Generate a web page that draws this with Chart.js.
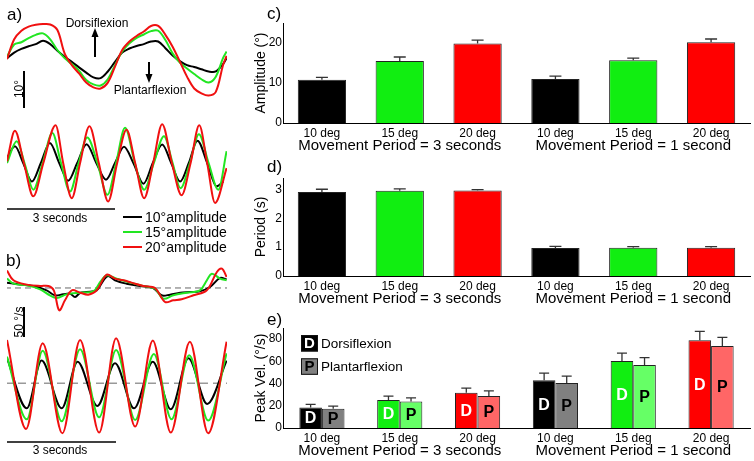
<!DOCTYPE html>
<html>
<head>
<meta charset="utf-8">
<script src="https://cdn.jsdelivr.net/npm/chart.js@4.4.1/dist/chart.umd.min.js"></script>
<style>
  body { margin: 0; background: #fff; }
  #fig { position: relative; width: 754px; height: 461px; overflow: hidden;
         font-family: "Liberation Sans", Arial, sans-serif; color: #000; background: #fff; }
  #fig canvas, #fig svg { position: absolute; }
  .txt { position: absolute; white-space: nowrap; line-height: 1; }
  .mid { transform: translate(-50%, -50%); }
  .rot { transform: translate(-50%, -50%) rotate(-90deg); }
  .panel { font-size: 17px; }
</style>
</head>
<body>
<div id="fig">
  <canvas id="aTop" width="220" height="84" style="left:7px;top:20px"></canvas>
  <canvas id="aBot" width="220" height="90" style="left:7px;top:120px"></canvas>
  <canvas id="bTop" width="220" height="54" style="left:7px;top:262px"></canvas>
  <canvas id="bBot" width="220" height="110" style="left:7px;top:330px"></canvas>
  <canvas id="cAmp" width="504" height="160" style="left:250px;top:0px"></canvas>
  <canvas id="dPer" width="504" height="160" style="left:250px;top:150px"></canvas>
  <canvas id="eVel" width="504" height="151" style="left:250px;top:310px"></canvas>

  <svg width="250" height="461" style="left:0;top:0">
    <g stroke="#000" fill="none">
      <line x1="95" y1="57" x2="95" y2="35" stroke-width="2"/>
      <line x1="149" y1="62" x2="149" y2="76" stroke-width="2"/>
      <line x1="24" y1="71" x2="24" y2="108" stroke-width="2"/>
      <line x1="7" y1="209" x2="115" y2="209" stroke-width="1.5"/>
      <line x1="24" y1="307" x2="24" y2="337" stroke-width="2"/>
      <line x1="7" y1="442" x2="116" y2="442" stroke-width="1.5"/>
      <line x1="123" y1="217" x2="142" y2="217" stroke-width="2" stroke="#000"/>
      <line x1="123" y1="232" x2="142" y2="232" stroke-width="2" stroke="#22e622"/>
      <line x1="123" y1="247" x2="142" y2="247" stroke-width="2" stroke="#f01010"/>
    </g>
    <polygon points="95,28 91.5,37 98.5,37" fill="#000"/>
    <polygon points="149,83 145.5,74 152.5,74" fill="#000"/>
  </svg>

  <div class="txt panel" style="left:7px;top:6px">a)</div>
  <div class="txt panel" style="left:6px;top:252px">b)</div>
  <div class="txt panel" style="left:267px;top:5px">c)</div>
  <div class="txt panel" style="left:267px;top:158px">d)</div>
  <div class="txt panel" style="left:267px;top:311px">e)</div>

  <div class="txt mid" style="left:97px;top:22.5px;font-size:12px">Dorsiflexion</div>
  <div class="txt mid" style="left:150px;top:90px;font-size:12px">Plantarflexion</div>
  <div class="txt rot" style="left:18.5px;top:89px;font-size:12px">10°</div>
  <div class="txt mid" style="left:60px;top:218px;font-size:12px">3 seconds</div>
  <div class="txt rot" style="left:19px;top:322px;font-size:12px">50 °/s</div>
  <div class="txt mid" style="left:60px;top:450px;font-size:12px">3 seconds</div>
  <div class="txt" style="left:145px;top:210px;font-size:14px">10°amplitude</div>
  <div class="txt" style="left:145px;top:225px;font-size:14px">15°amplitude</div>
  <div class="txt" style="left:145px;top:240px;font-size:14px">20°amplitude</div>
</div>

<script>
// ---- bar panels (c, d, e) ----
const amplitudes = ["10 deg", "15 deg", "20 deg", "10 deg", "15 deg", "20 deg"];
const periodGroups = ["Movement Period = 3 seconds", "Movement Period = 1 second"];
const groupCenter = [1, 4];

const amplitudeMean = [10.8, 15.5, 19.9, 11.0, 15.7, 20.2];
const amplitudeErr = [0.6, 1.0, 0.8, 0.7, 0.5, 0.8];
const periodMean = [2.91, 2.96, 2.97, 0.97, 0.98, 0.98];
const periodErr = [0.1, 0.06, 0.03, 0.06, 0.04, 0.04];
const dorsiVel = [18.5, 25.1, 31.7, 43.0, 60.4, 78.9];
const dorsiErr = [2.7, 3.6, 4.2, 6.3, 6.9, 8.1];
const plantarVel = [17.3, 23.9, 28.7, 40.6, 56.8, 73.8];
const plantarErr = [2.4, 3.3, 4.8, 6.0, 6.5, 7.8];

const ampTicks = [0, 10, 20];
const perTicks = [0, 1, 2, 3];
const velTicks = [0, 20, 40, 60, 80];

// ---- traces (a: angle in deg, b: velocity in deg/s, time in s) ----
const aTopTime = [0, 0.2, 0.4, 0.6, 0.8, 1.0, 1.2, 1.4, 1.6, 1.8, 2.0, 2.2, 2.4, 2.6, 2.8, 3.0,
                  3.2, 3.4, 3.6, 3.8, 4.0, 4.2, 4.4, 4.6, 4.8, 5.0, 5.2, 5.4, 5.6, 5.8, 6.0, 6.1];
const aTopBlack = [0.5, 2.0, 3.0, 3.7, 4.3, 5.2, 4.3, 2.5, 0.9, -0.5, -2.0, -3.4, -4.7, -4.9, -3.1, -0.5,
                   2.0, 3.1, 3.8, 4.3, 5.0, 5.0, 3.2, 1.2, -0.3, -1.4, -1.9, -2.5, -3.1, -3.1, -1.1, 0.5];
const aTopGreen = [0.9, 4.2, 4.8, 5.9, 6.8, 7.2, 5.6, 2.7, 0.5, -1.1, -2.9, -5.4, -6.6, -6.9, -5.2, -1.4,
                   2.3, 4.5, 6.0, 6.9, 7.8, 7.9, 5.4, 1.8, -0.7, -2.3, -3.8, -5.2, -6.1, -4.5, 0.5, 2.3];
const aTopRed = [0.2, 5.6, 7.9, 9.0, 9.5, 9.7, 9.6, 8.1, 1.8, -1.4, -3.6, -6.1, -7.4, -7.7, -6.1, -1.8,
                 2.7, 5.0, 6.5, 7.7, 9.2, 9.2, 6.8, 3.6, -0.4, -4.5, -7.7, -9.0, -9.6, -8.6, -1.4, 1.1];

const aBotBlackT = [0, 0.22, 0.45, 0.69, 0.94, 1.19, 1.45, 1.70, 1.95, 2.21, 2.48, 2.75, 3.00,
                    3.25, 3.51, 3.79, 4.05, 4.31, 4.56, 4.81, 5.05, 5.29, 5.56, 5.82, 6.01];
const aBotBlack = [1.4, 4.5, 0, -5.0, 0, 5.4, 0, -4.8, 0, 5.1, 0, -4.5, 0,
                   4.4, 0, -5.6, 0, 5.0, 0, -5.0, 0, 6.0, 0, -6.3, -5.0];
const aBotGreenT = [0, 0.27, 0.50, 0.73, 0.99, 1.26, 1.50, 1.75, 1.99, 2.23, 2.51, 2.79, 3.03,
                    3.28, 3.55, 3.81, 4.08, 4.36, 4.60, 4.82, 5.08, 5.33, 5.60, 5.87, 6.10];
const aBotGreen = [0, 5.9, -0.5, -7.2, 0, 8.1, 0, -7.7, 0, 6.9, 0, -8.6, 0,
                   9.5, 0, -7.2, 0, 7.2, 0, -6.8, 0, 7.8, 0, -7.2, 3.2];
const aBotRedT = [0, 0.22, 0.47, 0.73, 1.01, 1.35, 1.56, 1.80, 2.03, 2.29, 2.55, 2.81, 3.06,
                  3.32, 3.56, 3.81, 4.06, 4.31, 4.58, 4.85, 5.10, 5.34, 5.56, 5.78, 6.10];
const aBotRed = [0.5, 8.7, 0, -9.0, 0, 10.2, 0, -9.5, 0, 9.9, 0, -10.4, 0,
                 9.0, 0, -9.5, 0, 10.5, 0, -8.7, 0, 10.2, 0, -10.8, -1.4];

const bTopBlackT = [0, 0.36, 0.73, 1.10, 1.33, 1.56, 1.75, 1.89, 2.03, 2.21, 2.49, 2.68, 2.81,
                    3.00, 3.32, 3.69, 4.06, 4.29, 4.53, 4.81, 5.08, 5.36, 5.64, 5.92, 6.10];
const bTopBlack = [8.9, 5.6, 3.3, -3.9, -12.2, -10.6, -9.4, -15.0, -8.3, -6.7, -3.9, 12.8, 20.0,
                   12.8, 7.2, 3.3, 0, -12.2, -11.1, -7.8, -6.7, -5.6, 1.7, 16.7, 14.4];
const bTopGreenT = [0, 0.18, 0.55, 0.92, 1.19, 1.38, 1.66, 2.03, 2.40, 2.59, 2.77, 3.05,
                    3.42, 3.79, 4.11, 4.34, 4.62, 4.99, 5.36, 5.55, 5.69, 5.92, 6.10];
const bTopGreen = [15.6, 7.2, 4.4, -2.2, -12.2, -16.7, -10.6, -7.8, -5.6, 10.0, 21.1, 15.6,
                   8.9, 3.3, -1.1, -17.8, -12.2, -7.8, -3.9, 12.8, 23.9, 15.6, 12.8];
const bTopRedT = [0, 0.18, 0.55, 0.92, 1.15, 1.30, 1.45, 1.61, 1.80, 2.03, 2.26, 2.49, 2.77,
                  3.00, 3.24, 3.46, 3.79, 4.11, 4.39, 4.62, 4.85, 5.18, 5.55, 5.83, 5.97, 6.10];
const bTopRed = [29.0, 12.8, 5.6, 3.3, 3.3, -3.9, -37.2, -20.6, -3.9, -7.8, -11.1, -3.9, 22.2,
                 15.6, 12.8, 8.9, 3.3, 0, -23.3, -20.6, -18.9, -12.2, -3.9, 26.7, 32.2, 18.3];

const bBotBlackT = [0, 0.55, 0.96, 1.52, 1.96, 2.51, 3.00, 3.53, 4.05, 4.55, 5.04, 5.56, 6.10];
const bBotBlack = [41.7, -41.7, 37.8, -41.7, 36.1, -37.8, 33.3, -41.7, 36.1, -43.3, 41.7, -34.4, 37.8];
const bBotGreenT = [0, 0.55, 0.99, 1.52, 2.03, 2.56, 3.03, 3.56, 4.08, 4.57, 5.06, 5.59, 6.10];
const bBotGreen = [44.4, -60.0, 54.4, -63.3, 56.7, -56.7, 55.6, -61.1, 48.9, -60.0, 46.7, -62.2, 50.0];
const bBotRedT = [0, 0.53, 0.99, 1.54, 2.03, 2.56, 3.03, 3.56, 4.05, 4.55, 5.08, 5.59, 6.10];
const bBotRed = [72.2, -76.1, 66.7, -83.3, 72.2, -82.2, 75.0, -72.2, 71.1, -82.2, 69.4, -83.3, 69.4];

const BLACK = "#000000", GREEN = "#22e622", RED = "#f01010";
const ampColors = ["#000000", "#11ee11", "#ff0000", "#000000", "#11ee11", "#ff0000"];
const dorsiColors = ["#000000", "#11ee11", "#ff0000", "#000000", "#11ee11", "#ff0000"];
const plantarColors = ["#808080", "#66ff66", "#ff6666", "#808080", "#66ff66", "#ff6666"];

Chart.defaults.font.family = '"Liberation Sans", Arial, sans-serif';
Chart.defaults.color = "#000";

const zip = (t, v) => t.map((x, i) => ({ x, y: v[i] }));

// dashed zero reference for velocity traces
const zeroLine = {
  id: "zeroLine",
  beforeDatasetsDraw(chart, args, opts) {
    if (!opts.show) return;
    const { ctx, chartArea, scales: { y } } = chart;
    const py = y.getPixelForValue(0);
    ctx.save();
    ctx.strokeStyle = opts.color;
    ctx.lineWidth = opts.width;
    ctx.setLineDash(opts.dash);
    ctx.beginPath();
    ctx.moveTo(chartArea.left - 2, py);
    ctx.lineTo(chartArea.right, py);
    ctx.stroke();
    ctx.restore();
  }
};

function tracePanel(id, yMin, yMax, sets, mode, zero) {
  new Chart(document.getElementById(id), {
    type: "line",
    data: {
      datasets: sets.map(s => ({
        data: zip(s.t, s.v),
        borderColor: s.color,
        borderWidth: 2,
        pointRadius: 0,
        tension: 0.35,
        cubicInterpolationMode: mode,
        clip: false
      }))
    },
    options: {
      responsive: false, animation: false, events: [],
      layout: { padding: 0 },
      plugins: { legend: { display: false }, tooltip: { enabled: false },
                 zeroLine: Object.assign({ show: false }, zero) },
      scales: {
        x: { type: "linear", min: 0, max: 6.111, display: false },
        y: { min: yMin, max: yMax, display: false }
      }
    },
    plugins: [zeroLine]
  });
}

tracePanel("aTop", -11.89, 10.81, [
  { t: aTopTime, v: aTopRed, color: RED },
  { t: aTopTime, v: aTopGreen, color: GREEN },
  { t: aTopTime, v: aTopBlack, color: BLACK }
], "default");

tracePanel("aBot", -12.7, 11.62, [
  { t: aBotRedT, v: aBotRed, color: RED },
  { t: aBotGreenT, v: aBotGreen, color: GREEN },
  { t: aBotBlackT, v: aBotBlack, color: BLACK }
], "monotone");

tracePanel("bTop", -46.7, 43.3, [
  { t: bTopRedT, v: bTopRed, color: RED },
  { t: bTopGreenT, v: bTopGreen, color: GREEN },
  { t: bTopBlackT, v: bTopBlack, color: BLACK }
], "default", { show: true, color: "#666", width: 1, dash: [6, 4] });

tracePanel("bBot", -94.5, 88.8, [
  { t: bBotRedT, v: bBotRed, color: RED },
  { t: bBotGreenT, v: bBotGreen, color: GREEN },
  { t: bBotBlackT, v: bBotBlack, color: BLACK }
], "monotone", { show: true, color: "#999", width: 1.5, dash: [8, 5] });

// error bars, in-bar letters and group captions
const barExtras = {
  id: "barExtras",
  afterDatasetsDraw(chart, args, opts) {
    const { ctx, chartArea, scales: { x, y } } = chart;
    ctx.save();
    chart.data.datasets.forEach((ds, di) => {
      chart.getDatasetMeta(di).data.forEach((bar, i) => {
        const top = y.getPixelForValue(ds.data[i] + ds.errors[i]);
        ctx.strokeStyle = "#333";
        ctx.lineWidth = 1.3;
        ctx.beginPath();
        ctx.moveTo(bar.x, bar.y);
        ctx.lineTo(bar.x, top);
        ctx.moveTo(bar.x - opts.cap / 2, top);
        ctx.lineTo(bar.x + opts.cap / 2, top);
        ctx.stroke();
        if (ds.letter) {
          ctx.font = 'bold 16px "Liberation Sans", Arial, sans-serif';
          ctx.fillStyle = ds.letterColor;
          ctx.textAlign = "center";
          ctx.textBaseline = "middle";
          ctx.fillText(ds.letter, bar.x, (bar.y + bar.base) / 2 + 1);
        }
      });
    });
    ctx.font = '15px "Liberation Sans", Arial, sans-serif';
    ctx.fillStyle = "#000";
    ctx.textAlign = "center";
    ctx.textBaseline = "alphabetic";
    periodGroups.forEach((g, k) => {
      ctx.fillText(g, x.getPixelForValue(groupCenter[k]), chartArea.bottom + 27);
    });
    ctx.restore();
  }
};

const velLegend = {
  id: "velLegend",
  afterDraw(chart) {
    const { ctx, chartArea: a } = chart;
    const rows = [["D", "Dorsiflexion", dorsiColors[0], "#fff"],
                  ["P", "Plantarflexion", plantarColors[0], "#000"]];
    ctx.save();
    rows.forEach(([k, label, fill, ink], i) => {
      const x = a.left + 18, y = a.top + 7 + i * 23.3;
      ctx.fillStyle = fill;
      ctx.fillRect(x, y, 17, 16.5);
      ctx.strokeStyle = "#111";
      ctx.lineWidth = 1;
      ctx.strokeRect(x + 0.5, y + 0.5, 16, 15.5);
      ctx.font = 'bold 15px "Liberation Sans", Arial, sans-serif';
      ctx.fillStyle = ink;
      ctx.textAlign = "center";
      ctx.textBaseline = "middle";
      ctx.fillText(k, x + 8.5, y + 9);
      ctx.font = '13.5px "Liberation Sans", Arial, sans-serif';
      ctx.fillStyle = "#000";
      ctx.textAlign = "left";
      ctx.fillText(label, x + 20, y + 9);
    });
    ctx.restore();
  }
};

function barPanel(id, datasets, yMax, ticks, title, lay, extra) {
  new Chart(document.getElementById(id), {
    type: "bar",
    data: { labels: amplitudes, datasets },
    options: {
      responsive: false, animation: false, events: [],
      layout: { padding: { top: lay.top, right: 4, left: 0, bottom: 0 } },
      plugins: { legend: { display: false }, tooltip: { enabled: false },
                 barExtras: { cap: lay.cap } },
      scales: {
        x: {
          grid: { display: false, drawTicks: false },
          border: { display: true, color: "#000", width: 1 },
          ticks: { color: "#000", font: { size: 12 }, padding: 3, maxRotation: 0, autoSkip: false },
          afterFit: s => { s.height = lay.xh; }
        },
        y: {
          min: 0, max: yMax,
          grid: { display: false, drawTicks: false },
          border: { display: true, color: "#000", width: 1 },
          ticks: { color: "#000", font: { size: 12 }, padding: 1 },
          afterBuildTicks: s => { s.ticks = ticks.map(v => ({ value: v })); },
          afterFit: s => { s.width = 33; },
          title: { display: true, text: title, color: "#000", font: { size: 14 },
                   padding: { top: 3, bottom: 0 } }
        }
      }
    },
    plugins: [barExtras].concat(extra || [])
  });
}

barPanel("cAmp", [{
  data: amplitudeMean, errors: amplitudeErr,
  backgroundColor: ampColors, borderColor: "#222", borderWidth: 1,
  barPercentage: 0.62, categoryPercentage: 1
}], 25, ampTicks, "Amplitude (°)", { top: 23, xh: 37, cap: 12 });

barPanel("dPer", [{
  data: periodMean, errors: periodErr,
  backgroundColor: ampColors, borderColor: "#222", borderWidth: 1,
  barPercentage: 0.62, categoryPercentage: 1
}], 3.4, perTicks, "Period (s)", { top: 28, xh: 34, cap: 12 });

barPanel("eVel", [{
  data: dorsiVel, errors: dorsiErr, letter: "D", letterColor: "#fff",
  backgroundColor: dorsiColors, borderColor: "#222", borderWidth: 1,
  barPercentage: 1, categoryPercentage: 0.58
}, {
  data: plantarVel, errors: plantarErr, letter: "P", letterColor: "#000",
  backgroundColor: plantarColors, borderColor: "#222", borderWidth: 1,
  barPercentage: 1, categoryPercentage: 0.58
}], 90, velTicks, "Peak Vel. (°/s)", { top: 18, xh: 33, cap: 10 }, [velLegend]);
</script>
</body>
</html>
